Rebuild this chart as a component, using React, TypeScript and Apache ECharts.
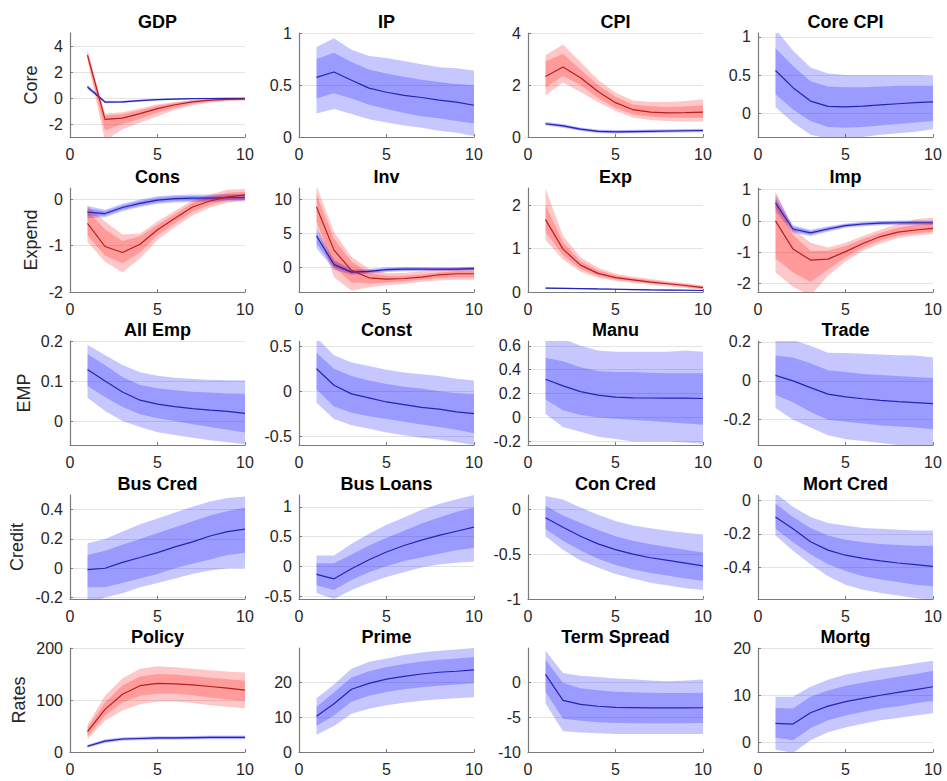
import React, { useEffect, useRef } from 'react';
import * as echarts from 'echarts';

// ---------------- data ----------------
const horizons = [1, 2, 3, 4, 5, 6, 7, 8, 9, 10];
const rowNames = ['Core', 'Expend', 'EMP', 'Credit', 'Rates'];
const xTicks = [0, 5, 10];

// GDP
const gdpBlueMid = [0.85, -0.31, -0.3, -0.2, -0.12, -0.08, -0.05, -0.04, -0.03, -0.03];
const gdpBlue68Lo = [0.75, -0.36, -0.35, -0.25, -0.16, -0.11, -0.08, -0.07, -0.06, -0.06];
const gdpBlue68Hi = [0.95, -0.26, -0.25, -0.15, -0.08, -0.05, -0.02, -0.01, 0.0, 0.0];
const gdpBlue90Lo = [0.68, -0.4, -0.39, -0.28, -0.19, -0.14, -0.1, -0.09, -0.08, -0.08];
const gdpBlue90Hi = [1.02, -0.22, -0.21, -0.12, -0.05, -0.02, 0.0, 0.01, 0.02, 0.02];
const gdpRedMid = [3.3, -1.65, -1.55, -1.2, -0.82, -0.52, -0.3, -0.17, -0.1, -0.08];
const gdpRed68Lo = [3.0, -2.5, -2.0, -1.6, -1.12, -0.75, -0.45, -0.28, -0.18, -0.14];
const gdpRed68Hi = [3.5, -1.35, -1.25, -0.95, -0.6, -0.38, -0.2, -0.1, -0.05, -0.03];
const gdpRed90Lo = [2.9, -3.3, -2.4, -1.9, -1.4, -0.9, -0.55, -0.35, -0.25, -0.2];
const gdpRed90Hi = [3.7, -1.2, -1.1, -0.8, -0.5, -0.3, -0.15, -0.05, 0.0, 0.02];

// IP
const ipMid = [0.573, 0.625, 0.545, 0.47, 0.43, 0.4, 0.38, 0.355, 0.335, 0.305];
const ip68Lo = [0.37, 0.42, 0.37, 0.31, 0.27, 0.23, 0.2, 0.18, 0.155, 0.13];
const ip68Hi = [0.75, 0.81, 0.72, 0.65, 0.61, 0.58, 0.55, 0.53, 0.51, 0.5];
const ip90Lo = [0.225, 0.27, 0.22, 0.17, 0.14, 0.11, 0.09, 0.06, 0.04, 0.01];
const ip90Hi = [0.865, 0.95, 0.84, 0.78, 0.76, 0.73, 0.7, 0.67, 0.66, 0.64];

// CPI
const cpiBlueMid = [0.51, 0.43, 0.3, 0.22, 0.2, 0.21, 0.22, 0.23, 0.24, 0.25];
const cpiBlue68Lo = [0.47, 0.39, 0.26, 0.18, 0.16, 0.17, 0.18, 0.19, 0.2, 0.21];
const cpiBlue68Hi = [0.55, 0.47, 0.34, 0.26, 0.24, 0.25, 0.26, 0.27, 0.28, 0.29];
const cpiBlue90Lo = [0.44, 0.36, 0.23, 0.15, 0.13, 0.14, 0.15, 0.16, 0.17, 0.18];
const cpiBlue90Hi = [0.58, 0.5, 0.37, 0.29, 0.27, 0.28, 0.29, 0.3, 0.31, 0.32];
const cpiRedMid = [2.33, 2.69, 2.28, 1.75, 1.32, 1.05, 0.96, 0.93, 0.94, 0.96];
const cpiRed68Lo = [1.9, 2.35, 2.0, 1.5, 1.12, 0.87, 0.78, 0.75, 0.74, 0.74];
const cpiRed68Hi = [2.9, 3.2, 2.6, 2.0, 1.55, 1.25, 1.18, 1.15, 1.17, 1.22];
const cpiRed90Lo = [1.6, 2.1, 1.73, 1.35, 1.0, 0.75, 0.65, 0.62, 0.6, 0.6];
const cpiRed90Hi = [3.14, 3.56, 2.88, 2.2, 1.7, 1.4, 1.35, 1.35, 1.38, 1.45];

// Core CPI
const coreMid = [0.56, 0.335, 0.16, 0.09, 0.085, 0.095, 0.11, 0.125, 0.14, 0.15];
const core68Lo = [0.25, 0.05, -0.1, -0.18, -0.19, -0.18, -0.16, -0.14, -0.12, -0.1];
const core68Hi = [0.85, 0.62, 0.42, 0.35, 0.34, 0.34, 0.35, 0.36, 0.36, 0.36];
const core90Lo = [0.08, -0.12, -0.28, -0.33, -0.35, -0.31, -0.28, -0.26, -0.24, -0.21];
const core90Hi = [1.1, 0.82, 0.6, 0.52, 0.5, 0.5, 0.5, 0.5, 0.5, 0.49];

// Cons
const consBlueMid = [-0.28, -0.31, -0.18, -0.09, -0.02, 0.01, 0.02, 0.02, 0.03, 0.03];
const consBlue68Lo = [-0.36, -0.36, -0.23, -0.14, -0.07, -0.04, -0.03, -0.03, -0.02, -0.02];
const consBlue68Hi = [-0.2, -0.26, -0.13, -0.04, 0.03, 0.06, 0.07, 0.07, 0.08, 0.08];
const consBlue90Lo = [-0.41, -0.39, -0.26, -0.17, -0.1, -0.07, -0.06, -0.06, -0.05, -0.05];
const consBlue90Hi = [-0.15, -0.23, -0.1, -0.01, 0.06, 0.09, 0.1, 0.1, 0.11, 0.11];
const consRedMid = [-0.52, -1.02, -1.15, -0.97, -0.66, -0.41, -0.17, -0.04, 0.05, 0.09];
const consRed68Lo = [-0.78, -1.22, -1.38, -1.15, -0.78, -0.52, -0.27, -0.12, -0.02, 0.02];
const consRed68Hi = [-0.25, -0.65, -0.9, -0.8, -0.55, -0.32, -0.08, 0.05, 0.14, 0.16];
const consRed90Lo = [-0.92, -1.35, -1.58, -1.28, -0.88, -0.6, -0.35, -0.18, -0.08, -0.02];
const consRed90Hi = [-0.14, -0.48, -0.76, -0.74, -0.48, -0.25, -0.03, 0.1, 0.2, 0.22];

// Inv
const invBlueMid = [4.6, 0.35, -0.75, -0.65, -0.4, -0.3, -0.3, -0.3, -0.3, -0.25];
const invBlue68Lo = [3.5, -0.1, -1.0, -0.85, -0.6, -0.5, -0.48, -0.47, -0.47, -0.42];
const invBlue68Hi = [5.2, 0.8, -0.5, -0.45, -0.2, -0.1, -0.12, -0.13, -0.13, -0.08];
const invBlue90Lo = [2.8, -0.4, -1.2, -1.0, -0.75, -0.62, -0.6, -0.58, -0.58, -0.53];
const invBlue90Hi = [5.8, 1.1, -0.3, -0.3, -0.05, 0.02, 0.0, -0.02, -0.02, 0.03];
const invRedMid = [8.9, 2.5, -0.5, -1.6, -1.8, -1.7, -1.5, -1.15, -1.0, -1.0];
const invRed68Lo = [6.8, 0.0, -2.3, -2.4, -2.3, -2.1, -1.9, -1.6, -1.5, -1.5];
const invRed68Hi = [10.8, 4.2, 0.8, -0.9, -1.3, -1.3, -1.1, -0.8, -0.6, -0.55];
const invRed90Lo = [5.9, -1.5, -3.5, -3.0, -2.7, -2.5, -2.2, -2.0, -1.9, -1.9];
const invRed90Hi = [12.0, 5.2, 1.5, -0.3, -0.9, -0.9, -0.6, -0.3, -0.1, 0.0];

// Exp
const expBlueMid = [0.09, 0.085, 0.078, 0.07, 0.063, 0.057, 0.05, 0.045, 0.04, 0.035];
const expBlue68Lo = [0.08, 0.075, 0.068, 0.06, 0.053, 0.047, 0.04, 0.035, 0.03, 0.025];
const expBlue68Hi = [0.1, 0.095, 0.088, 0.08, 0.073, 0.067, 0.06, 0.055, 0.05, 0.045];
const expBlue90Lo = [0.073, 0.068, 0.061, 0.053, 0.046, 0.04, 0.033, 0.028, 0.023, 0.018];
const expBlue90Hi = [0.107, 0.102, 0.095, 0.087, 0.08, 0.074, 0.067, 0.062, 0.057, 0.052];
const expRedMid = [1.67, 0.99, 0.62, 0.43, 0.33, 0.28, 0.23, 0.19, 0.15, 0.1];
const expRed68Lo = [1.38, 0.85, 0.53, 0.37, 0.29, 0.24, 0.2, 0.16, 0.12, 0.07];
const expRed68Hi = [2.0, 1.15, 0.71, 0.5, 0.38, 0.32, 0.27, 0.22, 0.18, 0.13];
const expRed90Lo = [1.2, 0.75, 0.47, 0.33, 0.26, 0.21, 0.17, 0.13, 0.09, 0.05];
const expRed90Hi = [2.38, 1.3, 0.8, 0.56, 0.42, 0.35, 0.3, 0.25, 0.2, 0.15];

// Imp
const impBlueMid = [0.57, -0.26, -0.38, -0.26, -0.15, -0.1, -0.07, -0.06, -0.06, -0.06];
const impBlue68Lo = [0.42, -0.33, -0.44, -0.31, -0.19, -0.14, -0.11, -0.1, -0.1, -0.1];
const impBlue68Hi = [0.72, -0.19, -0.32, -0.21, -0.11, -0.06, -0.03, -0.02, -0.02, -0.02];
const impBlue90Lo = [0.3, -0.38, -0.48, -0.35, -0.22, -0.17, -0.14, -0.13, -0.13, -0.13];
const impBlue90Hi = [0.85, -0.14, -0.28, -0.17, -0.08, -0.03, 0.0, 0.01, 0.01, 0.01];
const impRedMid = [0.0, -0.9, -1.25, -1.22, -0.98, -0.72, -0.5, -0.36, -0.29, -0.24];
const impRed68Lo = [-1.2, -1.65, -1.95, -1.55, -1.17, -0.85, -0.62, -0.47, -0.4, -0.35];
const impRed68Hi = [0.7, -0.45, -0.95, -0.95, -0.8, -0.58, -0.38, -0.22, -0.12, -0.08];
const impRed90Lo = [-1.65, -2.1, -2.4, -1.75, -1.3, -0.95, -0.72, -0.55, -0.47, -0.42];
const impRed90Hi = [0.95, -0.25, -0.7, -0.85, -0.7, -0.48, -0.28, -0.1, 0.05, 0.1];

// All Emp
const empMid = [0.129, 0.1, 0.0725, 0.052, 0.042, 0.036, 0.031, 0.027, 0.024, 0.019];
const emp68Lo = [0.0875, 0.06, 0.035, 0.017, 0.007, 0.0, -0.008, -0.015, -0.022, -0.029];
const emp68Hi = [0.167, 0.14, 0.11, 0.09, 0.082, 0.077, 0.073, 0.071, 0.069, 0.068];
const emp90Lo = [0.058, 0.025, 0.0, -0.015, -0.028, -0.035, -0.042, -0.048, -0.053, -0.058];
const emp90Hi = [0.19, 0.165, 0.14, 0.122, 0.113, 0.108, 0.105, 0.103, 0.102, 0.101];

// Const
const constMid = [0.25, 0.067, -0.03, -0.074, -0.12, -0.15, -0.18, -0.2, -0.23, -0.25];
const const68Lo = [0.02, -0.17, -0.24, -0.28, -0.31, -0.34, -0.37, -0.4, -0.43, -0.47];
const const68Hi = [0.43, 0.25, 0.17, 0.12, 0.08, 0.05, 0.03, 0.0, -0.02, -0.03];
const const90Lo = [-0.13, -0.31, -0.38, -0.42, -0.46, -0.49, -0.52, -0.54, -0.57, -0.6];
const const90Hi = [0.6, 0.4, 0.32, 0.28, 0.24, 0.21, 0.19, 0.17, 0.14, 0.12];

// Manu
const manuMid = [0.32, 0.265, 0.217, 0.187, 0.17, 0.165, 0.163, 0.162, 0.162, 0.159];
const manu68Lo = [0.15, 0.06, 0.02, 0.0, -0.01, -0.02, -0.03, -0.04, -0.05, -0.06];
const manu68Hi = [0.5, 0.47, 0.42, 0.39, 0.38, 0.38, 0.375, 0.37, 0.37, 0.37];
const manu90Lo = [0.03, -0.08, -0.12, -0.16, -0.18, -0.2, -0.2, -0.2, -0.21, -0.22];
const manu90Hi = [0.7, 0.66, 0.6, 0.56, 0.55, 0.55, 0.55, 0.55, 0.56, 0.55];

// Trade
const tradeMid = [0.028, 0.0, -0.035, -0.068, -0.082, -0.092, -0.1, -0.107, -0.112, -0.117];
const trade68Lo = [-0.073, -0.11, -0.16, -0.2, -0.21, -0.22, -0.23, -0.235, -0.24, -0.25];
const trade68Hi = [0.13, 0.12, 0.09, 0.055, 0.045, 0.035, 0.03, 0.025, 0.02, 0.015];
const trade90Lo = [-0.14, -0.2, -0.24, -0.28, -0.3, -0.31, -0.32, -0.33, -0.34, -0.34];
const trade90Hi = [0.22, 0.21, 0.18, 0.145, 0.143, 0.14, 0.135, 0.132, 0.13, 0.12];

// Bus Cred
const busCredMid = [-0.01, 0.0, 0.04, 0.073, 0.107, 0.146, 0.18, 0.22, 0.25, 0.267];
const busCred68Lo = [-0.13, -0.13, -0.1, -0.07, -0.04, 0.0, 0.03, 0.06, 0.09, 0.105];
const busCred68Hi = [0.09, 0.12, 0.16, 0.2, 0.24, 0.28, 0.32, 0.36, 0.39, 0.415];
const busCred90Lo = [-0.25, -0.2, -0.17, -0.13, -0.1, -0.07, -0.04, -0.015, 0.0, 0.0];
const busCred90Hi = [0.17, 0.2, 0.25, 0.3, 0.34, 0.38, 0.42, 0.455, 0.48, 0.49];

// Bus Loans
const busLoansMid = [-0.135, -0.21, -0.04, 0.11, 0.24, 0.35, 0.44, 0.52, 0.59, 0.66];
const busLoans68Lo = [-0.32, -0.4, -0.23, -0.1, 0.0, 0.09, 0.15, 0.21, 0.27, 0.31];
const busLoans68Hi = [0.05, 0.05, 0.2, 0.35, 0.48, 0.6, 0.72, 0.82, 0.92, 0.99];
const busLoans90Lo = [-0.45, -0.55, -0.4, -0.28, -0.18, -0.1, -0.02, 0.03, 0.06, 0.08];
const busLoans90Hi = [0.18, 0.18, 0.38, 0.55, 0.7, 0.82, 0.95, 1.05, 1.13, 1.2];

// Con Cred
const conCredMid = [-0.093, -0.2, -0.3, -0.385, -0.45, -0.5, -0.54, -0.57, -0.6, -0.63];
const conCred68Lo = [-0.22, -0.35, -0.46, -0.55, -0.62, -0.67, -0.71, -0.74, -0.77, -0.8];
const conCred68Hi = [0.04, -0.07, -0.15, -0.23, -0.3, -0.35, -0.39, -0.42, -0.45, -0.48];
const conCred90Lo = [-0.3, -0.45, -0.57, -0.65, -0.72, -0.77, -0.82, -0.85, -0.88, -0.9];
const conCred90Hi = [0.15, 0.11, 0.02, -0.06, -0.13, -0.18, -0.21, -0.24, -0.26, -0.28];

// Mort Cred
const mortCredMid = [-0.1, -0.17, -0.246, -0.296, -0.326, -0.345, -0.36, -0.372, -0.382, -0.392];
const mortCred68Lo = [-0.17, -0.25, -0.32, -0.38, -0.42, -0.45, -0.47, -0.485, -0.5, -0.51];
const mortCred68Hi = [-0.02, -0.1, -0.165, -0.21, -0.235, -0.25, -0.26, -0.265, -0.27, -0.27];
const mortCred90Lo = [-0.21, -0.3, -0.38, -0.45, -0.5, -0.53, -0.55, -0.565, -0.58, -0.59];
const mortCred90Hi = [0.04, -0.04, -0.1, -0.135, -0.15, -0.165, -0.17, -0.175, -0.18, -0.18];

// Policy
const policyBlueMid = [11, 21, 25, 26, 27, 27, 27.5, 28, 28, 28];
const policyBlue68Lo = [9, 19, 23, 24, 25, 25, 25.5, 26, 26, 26];
const policyBlue68Hi = [13, 23, 27, 28, 29, 29, 29.5, 30, 30, 30];
const policyBlue90Lo = [8, 17.5, 21.5, 22.5, 23.5, 23.5, 24, 24.5, 24.5, 24.5];
const policyBlue90Hi = [14, 24.5, 28.5, 29.5, 30.5, 30.5, 31, 31.5, 31.5, 31.5];
const policyRedMid = [39, 82, 111, 127.5, 132, 131, 129, 126, 123, 119];
const policyRed68Lo = [30, 70, 95, 108, 112, 112, 109, 105, 101, 98];
const policyRed68Hi = [47, 95, 128, 145, 150, 149, 146, 143, 140, 137];
const policyRed90Lo = [25, 60, 80, 92, 97, 97, 94, 90, 87, 84];
const policyRed90Hi = [52, 108, 142, 160, 165, 163, 160, 157, 155, 153];

// Prime
const primeMid = [10.3, 13.9, 18.1, 19.8, 21, 21.8, 22.5, 23, 23.3, 23.7];
const prime68Lo = [7.5, 10.5, 14.5, 16.2, 17.3, 18.1, 18.7, 19.1, 19.5, 19.8];
const prime68Hi = [13, 17.2, 21.5, 23.3, 24.5, 25.4, 26.1, 26.6, 27, 27.4];
const prime90Lo = [5, 7.5, 11, 12.5, 13.5, 14.2, 14.8, 15.2, 15.5, 15.8];
const prime90Hi = [15.5, 19.5, 24, 26, 27, 28, 28.7, 29.2, 29.6, 30];

// Term Spread
const termMid = [1.2, -2.56, -3.14, -3.4, -3.55, -3.6, -3.65, -3.65, -3.65, -3.62];
const term68Lo = [-1.3, -5.2, -5.5, -5.7, -5.8, -5.85, -5.9, -5.9, -5.85, -5.8];
const term68Hi = [3.3, 0.0, -0.8, -1.1, -1.3, -1.4, -1.45, -1.5, -1.5, -1.45];
const term90Lo = [-3.0, -7.0, -7.2, -7.3, -7.4, -7.4, -7.4, -7.4, -7.4, -7.4];
const term90Hi = [4.6, 1.4, 1.0, 0.8, 0.6, 0.5, 0.3, 0.2, 0.3, 0.45];

// Mortg
const mortgMid = [4.07, 3.9, 6.3, 7.7, 8.65, 9.35, 10, 10.6, 11.2, 11.8];
const mortg68Lo = [1.0, 0.5, 3.0, 4.7, 5.7, 6.5, 7.2, 7.7, 8.3, 8.8];
const mortg68Hi = [7.3, 7.2, 9.7, 11.0, 12.0, 12.7, 13.3, 13.9, 14.5, 15.2];
const mortg90Lo = [-1.5, -2.2, 0.5, 2.2, 3.2, 4.0, 4.7, 5.2, 5.7, 6.2];
const mortg90Hi = [9.7, 9.7, 11.8, 13.3, 14.4, 15.1, 15.7, 16.2, 16.8, 17.3];

// axis ranges & tick labels
const panelTitles = ['GDP', 'IP', 'CPI', 'Core CPI', 'Cons', 'Inv', 'Exp', 'Imp', 'All Emp', 'Const', 'Manu', 'Trade',
  'Bus Cred', 'Bus Loans', 'Con Cred', 'Mort Cred', 'Policy', 'Prime', 'Term Spread', 'Mortg'];
const yMins = [-3, 0, 0, -0.31, -2, -3.7, 0, -2.27, -0.06, -0.6, -0.23, -0.33, -0.21, -0.55, -1, -0.585, 0, 0, -10, -2];
const yMaxs = [5, 1, 4, 1.05, 0.24, 11.7, 2.4, 1.05, 0.2, 0.56, 0.64, 0.205, 0.5, 1.2, 0.16, 0.03, 200, 30, 5, 20];
const yTickSets = [
  [-2, 0, 2, 4], [0, 0.5, 1], [0, 2, 4], [0, 0.5, 1],
  [-2, -1, 0], [0, 5, 10], [0, 1, 2], [-2, -1, 0, 1],
  [0, 0.1, 0.2], [-0.5, 0, 0.5], [-0.2, 0, 0.2, 0.4, 0.6], [-0.2, 0, 0.2],
  [-0.2, 0, 0.2, 0.4], [-0.5, 0, 0.5, 1], [-1, -0.5, 0], [-0.4, -0.2, 0],
  [0, 100, 200], [0, 10, 20], [-10, -5, 0], [0, 10, 20],
];

type Band = { mid: number[]; lo68: number[]; hi68: number[]; lo90: number[]; hi90: number[] };
const band = (mid: number[], lo68: number[], hi68: number[], lo90: number[], hi90: number[]): Band => ({ mid, lo68, hi68, lo90, hi90 });

const blueBands: Band[] = [
  band(gdpBlueMid, gdpBlue68Lo, gdpBlue68Hi, gdpBlue90Lo, gdpBlue90Hi),
  band(ipMid, ip68Lo, ip68Hi, ip90Lo, ip90Hi),
  band(cpiBlueMid, cpiBlue68Lo, cpiBlue68Hi, cpiBlue90Lo, cpiBlue90Hi),
  band(coreMid, core68Lo, core68Hi, core90Lo, core90Hi),
  band(consBlueMid, consBlue68Lo, consBlue68Hi, consBlue90Lo, consBlue90Hi),
  band(invBlueMid, invBlue68Lo, invBlue68Hi, invBlue90Lo, invBlue90Hi),
  band(expBlueMid, expBlue68Lo, expBlue68Hi, expBlue90Lo, expBlue90Hi),
  band(impBlueMid, impBlue68Lo, impBlue68Hi, impBlue90Lo, impBlue90Hi),
  band(empMid, emp68Lo, emp68Hi, emp90Lo, emp90Hi),
  band(constMid, const68Lo, const68Hi, const90Lo, const90Hi),
  band(manuMid, manu68Lo, manu68Hi, manu90Lo, manu90Hi),
  band(tradeMid, trade68Lo, trade68Hi, trade90Lo, trade90Hi),
  band(busCredMid, busCred68Lo, busCred68Hi, busCred90Lo, busCred90Hi),
  band(busLoansMid, busLoans68Lo, busLoans68Hi, busLoans90Lo, busLoans90Hi),
  band(conCredMid, conCred68Lo, conCred68Hi, conCred90Lo, conCred90Hi),
  band(mortCredMid, mortCred68Lo, mortCred68Hi, mortCred90Lo, mortCred90Hi),
  band(policyBlueMid, policyBlue68Lo, policyBlue68Hi, policyBlue90Lo, policyBlue90Hi),
  band(primeMid, prime68Lo, prime68Hi, prime90Lo, prime90Hi),
  band(termMid, term68Lo, term68Hi, term90Lo, term90Hi),
  band(mortgMid, mortg68Lo, mortg68Hi, mortg90Lo, mortg90Hi),
];

const redBands: (Band | null)[] = [
  band(gdpRedMid, gdpRed68Lo, gdpRed68Hi, gdpRed90Lo, gdpRed90Hi), null,
  band(cpiRedMid, cpiRed68Lo, cpiRed68Hi, cpiRed90Lo, cpiRed90Hi), null,
  band(consRedMid, consRed68Lo, consRed68Hi, consRed90Lo, consRed90Hi),
  band(invRedMid, invRed68Lo, invRed68Hi, invRed90Lo, invRed90Hi),
  band(expRedMid, expRed68Lo, expRed68Hi, expRed90Lo, expRed90Hi),
  band(impRedMid, impRed68Lo, impRed68Hi, impRed90Lo, impRed90Hi),
  null, null, null, null, null, null, null, null,
  band(policyRedMid, policyRed68Lo, policyRed68Hi, policyRed90Lo, policyRed90Hi), null, null, null,
];

// ---------------- styling / layout ----------------
const FONT = '"Liberation Sans", Arial, Helvetica, sans-serif';
const COL_LEFT = [70, 299, 528, 758];
const ROW_TOP = [33, 188, 341, 495, 648];
const PLOT_W = 175;
const PLOT_H = 104;
const ROW_NAME_GAP = [30, 30, 37, 44, 42];
const AXIS_COLOR = '#7a7a7a';
const TEXT_COLOR = '#262626';
const GRID_COLOR = '#e4e4e4';
const BLUE_FILL = 'rgba(0,0,255,0.22)';
const RED_FILL = 'rgba(255,0,0,0.22)';
const BLUE_LINE = '#2424b4';
const RED_LINE = '#bb1c1c';
const TICK_FONT = 16;

const fmt = (v: number) => String(Number(v.toFixed(6)));

function bandSeries(idx: number, lo: number[], hi: number[], fill: string) {
  return {
    type: 'custom', xAxisIndex: idx, yAxisIndex: idx, silent: true, z: 1, clip: true,
    data: horizons.map((h, k) => [h, lo[k], hi[k]]),
    encode: { x: 0, y: [1, 2] },
    renderItem: (params: any, api: any) => {
      if (params.dataIndex !== 0) return null;
      const upper = horizons.map((h, k) => api.coord([h, hi[k]]));
      const lower = horizons.map((h, k) => api.coord([h, lo[k]])).reverse();
      return {
        type: 'polygon',
        shape: { points: upper.concat(lower) },
        style: { fill, stroke: 'none' },
      };
    },
  };
}

function lineSeries(idx: number, mid: number[], color: string) {
  return {
    type: 'line', xAxisIndex: idx, yAxisIndex: idx, symbol: 'none', silent: true, z: 3, clip: true,
    lineStyle: { color, width: 1.2 }, data: horizons.map((h, k) => [h, mid[k]]),
  };
}

function buildOption() {
  const grids: any[] = [];
  const xAxes: any[] = [];
  const yAxes: any[] = [];
  const series: any[] = [];
  const graphics: any[] = [];

  panelTitles.forEach((title, i) => {
    const col = i % 4;
    const row = Math.floor(i / 4);
    const left = COL_LEFT[col];
    const top = ROW_TOP[row];
    grids.push({ left, top, width: PLOT_W, height: PLOT_H, containLabel: false, outerBoundsMode: 'none' });
    xAxes.push({
      type: 'value', gridIndex: i, min: 0, max: 10, interval: 5,
      axisLine: { show: true, onZero: false, lineStyle: { color: AXIS_COLOR, width: 1.2 } },
      axisTick: { show: true, inside: true, length: 3, lineStyle: { color: AXIS_COLOR } },
      axisLabel: { show: true, fontSize: TICK_FONT, color: TEXT_COLOR, fontFamily: FONT, margin: 9, customValues: xTicks, formatter: fmt },
      splitLine: { show: false },
    });
    yAxes.push({
      type: 'value', gridIndex: i, min: yMins[i], max: yMaxs[i],
      name: col === 0 ? rowNames[row] : '',
      nameLocation: 'middle', nameRotate: 90, nameGap: ROW_NAME_GAP[row],
      nameTextStyle: { fontSize: 18, color: TEXT_COLOR, fontFamily: FONT },
      axisLine: { show: true, onZero: false, lineStyle: { color: AXIS_COLOR, width: 1.2 } },
      axisTick: { show: true, inside: true, length: 3, lineStyle: { color: AXIS_COLOR }, customValues: yTickSets[i] },
      axisLabel: { show: true, fontSize: TICK_FONT, color: TEXT_COLOR, fontFamily: FONT, margin: 7, customValues: yTickSets[i], formatter: fmt },
      splitLine: { show: true, lineStyle: { color: GRID_COLOR, width: 1 } },
    });

    const b = blueBands[i];
    const r = redBands[i];
    series.push(bandSeries(i, b.lo90, b.hi90, BLUE_FILL));
    series.push(bandSeries(i, b.lo68, b.hi68, BLUE_FILL));
    if (r) {
      series.push(bandSeries(i, r.lo90, r.hi90, RED_FILL));
      series.push(bandSeries(i, r.lo68, r.hi68, RED_FILL));
    }
    series.push(lineSeries(i, b.mid, BLUE_LINE));
    if (r) series.push(lineSeries(i, r.mid, RED_LINE));

    graphics.push({
      type: 'text', x: left + PLOT_W / 2, y: top - 11.5, silent: true,
      style: {
        text: title, fontSize: 18, fontWeight: 'bold', fontFamily: FONT, fill: '#000',
        align: 'center', verticalAlign: 'middle', textAlign: 'center', textVerticalAlign: 'middle',
      },
    });
  });

  return {
    animation: false,
    backgroundColor: '#ffffff',
    textStyle: { fontFamily: FONT },
    grid: grids,
    xAxis: xAxes,
    yAxis: yAxes,
    series,
    graphic: graphics,
  };
}

export default function App() {
  const ref = useRef<HTMLDivElement>(null);
  useEffect(() => {
    if (!ref.current) return;
    const chart = echarts.init(ref.current, undefined, { renderer: 'svg' });
    chart.setOption(buildOption() as any);
    return () => chart.dispose();
  }, []);
  return (
    <div
      ref={ref}
      style={{ position: 'fixed', left: 0, top: 0, width: 947, height: 781, background: '#fff' }}
    />
  );
}
